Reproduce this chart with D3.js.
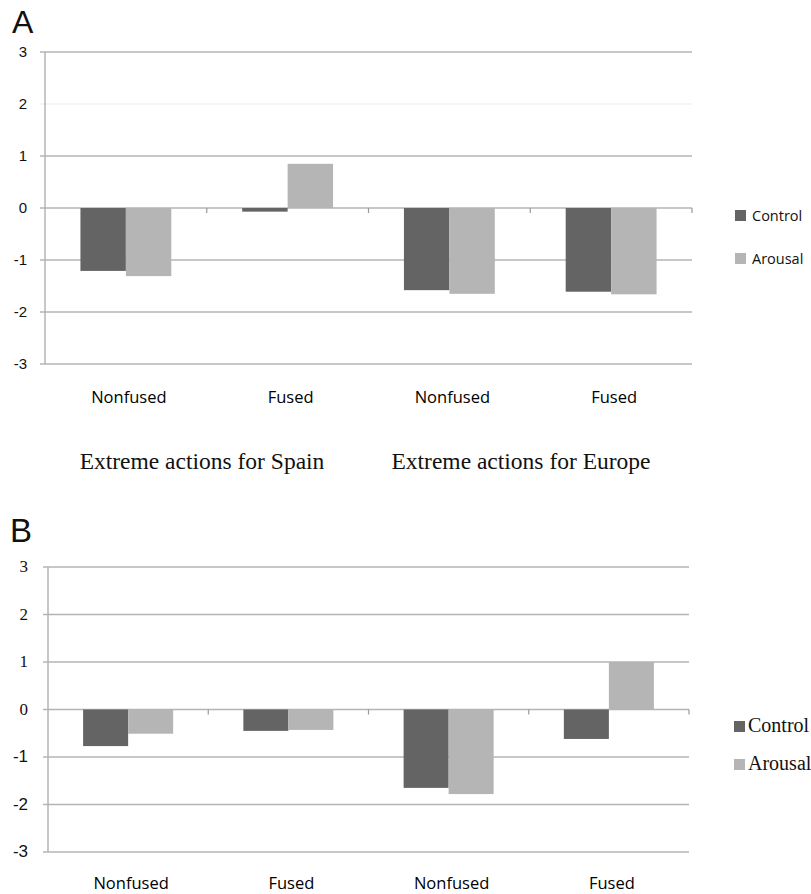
<!DOCTYPE html>
<html><head><meta charset="utf-8">
<script src="https://cdn.jsdelivr.net/npm/d3@7"></script>
<style>body{margin:0;background:#fff}svg{display:block}</style>
</head><body>
<svg id="chart" width="811" height="894"></svg>
<script>
const categories = ["Nonfused", "Fused", "Nonfused", "Fused"];
const seriesNames = ["Control", "Arousal"];
const controlA = [-1.21, -0.07, -1.58, -1.61];
const arousalA = [-1.31, 0.85, -1.65, -1.66];
const controlB = [-0.77, -0.45, -1.65, -0.62];
const arousalB = [-0.51, -0.43, -1.78, 1.0];
const yTicks = [3, 2, 1, 0, -1, -2, -3];
const groupLabelsA = ["Extreme actions for Spain", "Extreme actions for Europe"];
const colors = {Control: "#646464", Arousal: "#b5b5b5"};

const svg = d3.select("#chart");
const SANS = "'Open Sans', 'Liberation Sans', sans-serif";
const SERIF = "'Liberation Serif', 'DejaVu Serif', serif";

function panel(o) {
  const g = svg.append("g");
  const x = d3.scaleBand().domain(d3.range(categories.length)).range([o.left, o.right]);
  const x1 = d3.scaleBand().domain(seriesNames).range([0, x.bandwidth()]).paddingOuter(0.78);
  const y = d3.scaleLinear().domain([-3, 3]).range([o.bottom, o.top]);

  g.append("text").attr("x", o.letterX).attr("y", o.letterY).text(o.letter)
    .attr("font-family", "'Liberation Sans', Arial, sans-serif").attr("font-size", o.letterSize).attr("fill", "#111");

  g.selectAll("line.grid").data(yTicks).join("line")
    .attr("x1", o.left - 5).attr("x2", o.right)
    .attr("y1", d => y(d)).attr("y2", d => y(d))
    .attr("stroke", d => (o.faint2 && d === 2) ? "#f2f2f2" : "#b4b4b4").attr("stroke-width", 1.5);

  g.append("line").attr("x1", o.left).attr("x2", o.left).attr("y1", y(3)).attr("y2", y(-3))
    .attr("stroke", "#b4b4b4").attr("stroke-width", 1.5);

  g.selectAll("line.ct").data(d3.range(1, categories.length + 1)).join("line")
    .attr("x1", d => o.left + d * x.step()).attr("x2", d => o.left + d * x.step())
    .attr("y1", y(0)).attr("y2", y(0) + 5).attr("stroke", "#999").attr("stroke-width", 1.2);

  g.selectAll("text.yt").data(yTicks).join("text")
    .attr("x", o.left - o.tickOff).attr("y", d => y(d) + 5)
    .attr("text-anchor", "end")
    .attr("font-family", d => o.tickFont(d)).attr("font-size", o.tickSize).attr("fill", "#111")
    .text(d => d);

  const rows = categories.map((c, i) => ({i, vals: [{s: "Control", v: o.control[i]}, {s: "Arousal", v: o.arousal[i]}]}));
  const grp = g.selectAll("g.cat").data(rows).join("g").attr("transform", d => `translate(${x(d.i)},0)`);
  grp.selectAll("rect").data(d => d.vals).join("rect")
    .attr("x", d => x1(d.s)).attr("width", x1.bandwidth())
    .attr("y", d => y(Math.max(0, d.v))).attr("height", d => Math.abs(y(d.v) - y(0)))
    .attr("fill", d => colors[d.s]);

  g.selectAll("text.cl").data(categories).join("text")
    .attr("x", (d, i) => x(i) + x.bandwidth() / 2 + 3).attr("y", o.catY)
    .attr("text-anchor", "middle").attr("font-family", SANS).attr("font-size", 16.5).attr("fill", "#000")
    .text(d => d);

  const lg = g.selectAll("g.lg").data(seriesNames).join("g")
    .attr("transform", (d, i) => `translate(${o.legX},${o.legY + i * o.legGap})`);
  lg.append("rect").attr("x", 0).attr("y", -6).attr("width", 11).attr("height", 11).attr("fill", d => colors[d]);
  lg.append("text").attr("x", o.legTextX).attr("y", 5).attr("font-family", o.legFont).attr("font-size", o.legSize)
    .attr("fill", "#111").text(d => d);
  return {x, y};
}

const A = panel({letter: "A", letterX: 12, letterY: 33, letterSize: 32,
  left: 45, right: 692, top: 52, bottom: 364, control: controlA, arousal: arousalA,
  faint2: true, tickOff: 18, tickSize: 15, tickFont: d => "'Liberation Sans', Arial, sans-serif",
  catY: 403, legX: 735, legY: 216, legGap: 43, legTextX: 17, legFont: SANS, legSize: 14.5});

svg.selectAll("text.grpA").data(groupLabelsA).join("text")
  .attr("x", (d, i) => [202, 521][i]).attr("y", 469)
  .attr("text-anchor", "middle").attr("font-family", SERIF).attr("font-size", 23.5).attr("fill", "#111")
  .text(d => d);

const B = panel({letter: "B", letterX: 10, letterY: 542, letterSize: 33,
  left: 48, right: 689, top: 567, bottom: 852, control: controlB, arousal: arousalB,
  faint2: false, tickOff: 20, tickSize: 17, tickFont: d => d >= 0 ? SERIF : "'Liberation Sans', Arial, sans-serif",
  catY: 889, legX: 734, legY: 727, legGap: 38, legTextX: 14, legFont: SERIF, legSize: 20});
</script>
</body></html>
